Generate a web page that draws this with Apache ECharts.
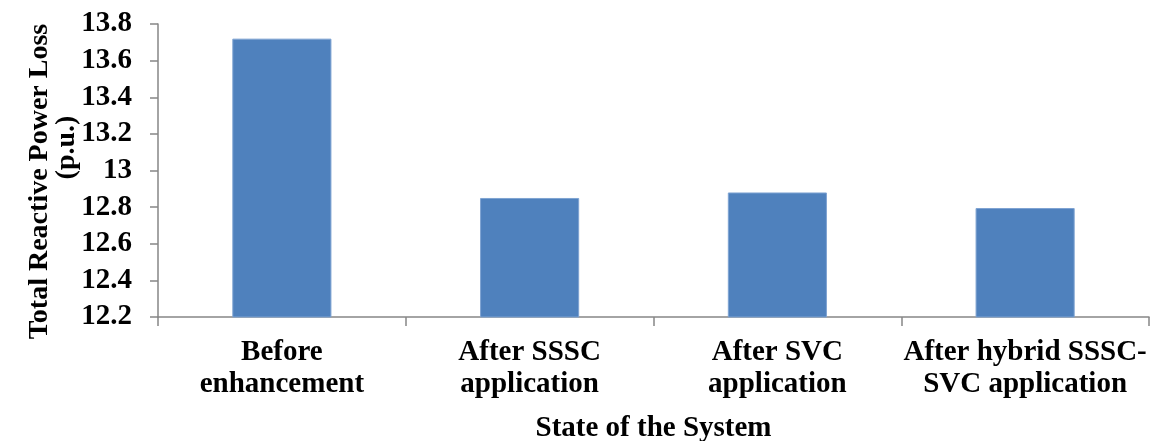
<!DOCTYPE html>
<html>
<head>
<meta charset="utf-8">
<script src="https://cdn.jsdelivr.net/npm/echarts@6/dist/echarts.min.js"></script>
<style>
html,body{margin:0;padding:0;background:#fff;}
#c{width:1152px;height:441px;}
</style>
</head>
<body>
<div id="c"></div>
<script>
const categories = ['Before\nenhancement', 'After SSSC\napplication', 'After SVC\napplication', 'After hybrid SSSC-\nSVC application'];
const lossValues = [13.72, 12.85, 12.88, 12.795];
const yTicks = { min: 12.2, max: 13.8, interval: 0.2 };
const xTitle = 'State of the System';
const yTitleLine1 = 'Total Reactive Power Loss';
const yTitleLine2 = '(p.u.)';

const FONT = "'Liberation Serif', 'Times New Roman', serif";
const chart = echarts.init(document.getElementById('c'), null, {renderer: 'canvas'});
chart.setOption({
  animation: false,
  backgroundColor: '#ffffff',
  grid: { left: 158, right: 3, top: 24, bottom: 124, containLabel: false, outerBoundsMode: 'none' },
  xAxis: {
    type: 'category',
    data: categories,
    name: xTitle,
    nameLocation: 'middle',
    nameGap: 97,
    nameMoveOverlap: false,
    nameTextStyle: { fontFamily: FONT, fontWeight: 'bold', fontSize: 29, color: '#000' },
    axisLine: { lineStyle: { color: '#868686', width: 1.5 } },
    axisTick: { show: true, alignWithLabel: false, length: 9, inside: false, lineStyle: { color: '#868686', width: 1.5 } },
    axisLabel: { fontFamily: FONT, fontWeight: 'bold', fontSize: 29, color: '#000', lineHeight: 32, margin: 20, interval: 0 },
    splitLine: { show: false }
  },
  yAxis: {
    type: 'value',
    min: yTicks.min,
    max: yTicks.max,
    interval: yTicks.interval,
    name: '{a|' + yTitleLine1 + '}\n{b|' + yTitleLine2 + '}',
    nameLocation: 'middle',
    nameRotate: 90,
    nameGap: 78,
    nameMoveOverlap: false,
    nameTextStyle: {
      fontFamily: FONT, fontWeight: 'bold', fontSize: 29, color: '#000', lineHeight: 27,
      padding: [0, 22, 0, 0],
      rich: {
        a: { fontFamily: FONT, fontWeight: 'bold', fontSize: 28, color: '#000', lineHeight: 27 },
        b: { fontFamily: FONT, fontWeight: 'bold', fontSize: 28, color: '#000', lineHeight: 27, padding: [0, 0, 0, 68] }
      }
    },
    axisLine: { show: true, lineStyle: { color: '#868686', width: 1.5 } },
    axisTick: { show: true, length: 8, lineStyle: { color: '#868686', width: 1.5 } },
    axisLabel: { fontFamily: FONT, fontWeight: 'bold', fontSize: 29, color: '#000', margin: 26 },
    splitLine: { show: false }
  },
  series: [{
    type: 'bar',
    data: lossValues,
    barWidth: '40%',
    itemStyle: { color: '#4F81BD', borderColor: '#7EA3D2', borderWidth: 1 }
  }]
});
</script>
</body>
</html>
